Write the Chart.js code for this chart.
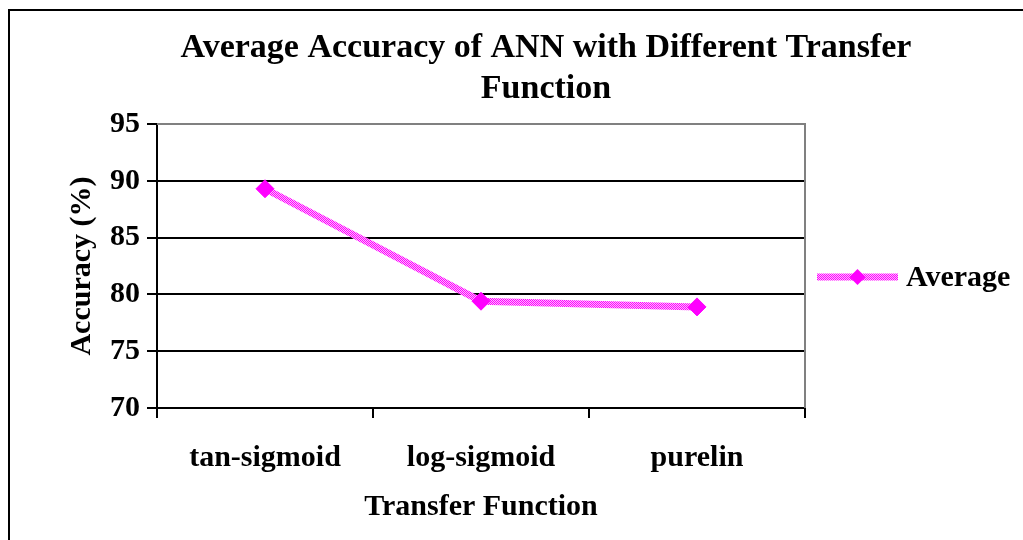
<!DOCTYPE html>
<html>
<head>
<meta charset="utf-8">
<script src="https://cdn.jsdelivr.net/npm/chart.js@4.4.1/dist/chart.umd.min.js"></script>
<style>
    html, body { margin: 0; padding: 0; background: #fff; overflow: hidden; }
    .frame {
        position: absolute;
        left: 8px;
        top: 9px;
        width: 1074px;
        height: 560px;
        border: 2px solid #000;
        box-sizing: border-box;
    }
    canvas { position: absolute; left: 0; top: 0; }
</style>
</head>
<body>
<div class="frame">
    <canvas id="accuracyChart" width="1072" height="558"></canvas>
</div>
<script>
// chart data
const categories = ['tan-sigmoid', 'log-sigmoid', 'purelin'];
const averageValues = [89.3, 79.4, 78.9];
const seriesName = 'Average';
const titleLines = ['Average Accuracy of ANN with Different Transfer', 'Function'];
const yTickMin = 70;
const yTickMax = 95;
const yTickStep = 5;

const serif = 'Liberation Serif, Times New Roman, serif';

// magenta dithered pattern like the old Excel line
function makeLinePattern(ctx) {
    const p = document.createElement('canvas');
    p.width = 2;
    p.height = 2;
    const pc = p.getContext('2d');
    pc.fillStyle = '#FF00FF';
    pc.fillRect(0, 0, 2, 2);
    pc.fillStyle = '#FFB8FF';
    pc.fillRect(0, 0, 1, 1);
    pc.fillRect(1, 1, 1, 1);
    return ctx.createPattern(p, 'repeat');
}

const canvas = document.getElementById('accuracyChart');
const ctx = canvas.getContext('2d');
const linePattern = makeLinePattern(ctx);

// gray top/right border of the plot area, centred title and the right side legend
const plotFrame = {
    id: 'plotFrame',
    beforeDatasetsDraw(chart) {
        const a = chart.chartArea;
        const c = chart.ctx;
        c.save();
        c.strokeStyle = '#808080';
        c.lineWidth = 2;
        c.beginPath();
        c.moveTo(a.left, a.top);
        c.lineTo(a.right, a.top);
        c.lineTo(a.right, a.bottom);
        c.stroke();
        c.restore();
    },
    afterDraw(chart) {
        const a = chart.chartArea;
        const c = chart.ctx;
        c.save();

        // title, centred on the whole chart box
        c.fillStyle = '#000';
        c.font = 'bold 34px ' + serif;
        c.textAlign = 'center';
        c.textBaseline = 'middle';
        titleLines.forEach((line, i) => {
            c.fillText(line, chart.width / 2, 37 + i * 41);
        });

        // legend
        const x0 = a.right + 12;
        const x1 = x0 + 81;
        const y = a.top + 153;
        c.strokeStyle = linePattern;
        c.lineWidth = 7;
        c.beginPath();
        c.moveTo(x0, y);
        c.lineTo(x1, y);
        c.stroke();
        const mx = (x0 + x1) / 2;
        c.fillStyle = '#FF00FF';
        c.beginPath();
        c.moveTo(mx, y - 8);
        c.lineTo(mx + 8, y);
        c.lineTo(mx, y + 8);
        c.lineTo(mx - 8, y);
        c.closePath();
        c.fill();
        c.fillStyle = '#000';
        c.font = 'bold 30px ' + serif;
        c.textAlign = 'left';
        c.fillText(seriesName, x1 + 8, y + 1);
        c.restore();
    }
};

new Chart(ctx, {
    type: 'line',
    data: {
        labels: categories,
        datasets: [{
            label: seriesName,
            data: averageValues,
            borderColor: linePattern,
            borderWidth: 7,
            tension: 0,
            pointStyle: 'rectRot',
            pointRadius: 9,
            pointBackgroundColor: '#FF00FF',
            pointBorderColor: '#FF00FF',
            pointBorderWidth: 1
        }]
    },
    options: {
        responsive: false,
        animation: false,
        devicePixelRatio: 1,
        layout: {
            padding: { left: 0, right: 277, top: 113, bottom: 44 }
        },
        plugins: {
            legend: { display: false },
            tooltip: { enabled: false },
            title: { display: false }
        },
        scales: {
            x: {
                offset: true,
                grid: {
                    offset: true,
                    drawOnChartArea: false,
                    color: '#000',
                    lineWidth: 2,
                    tickLength: 10
                },
                border: { color: '#000', width: 2 },
                ticks: {
                    color: '#000',
                    padding: 22,
                    font: { family: serif, size: 30, weight: 'bold' }
                },
                title: {
                    display: true,
                    text: 'Transfer Function',
                    color: '#000',
                    font: { family: serif, size: 30, weight: 'bold' },
                    padding: { top: 0, bottom: 0 }
                },
                afterFit(scale) { scale.height = 117; }
            },
            y: {
                min: yTickMin,
                max: yTickMax,
                grid: {
                    color: c => (c.tick && c.tick.value === yTickMax) ? '#808080' : '#000',
                    tickColor: '#000',
                    lineWidth: 2,
                    tickLength: 10
                },
                border: { color: '#000', width: 2 },
                ticks: {
                    stepSize: yTickStep,
                    color: '#000',
                    padding: 7,
                    font: { family: serif, size: 30, weight: 'bold' }
                },
                title: {
                    display: true,
                    text: 'Accuracy (%)',
                    color: '#000',
                    font: { family: serif, size: 30, weight: 'bold' },
                    padding: { top: 54, bottom: 0 }
                },
                afterFit(scale) { scale.width = 147; }
            }
        }
    },
    plugins: [plotFrame]
});
</script>
</body>
</html>
